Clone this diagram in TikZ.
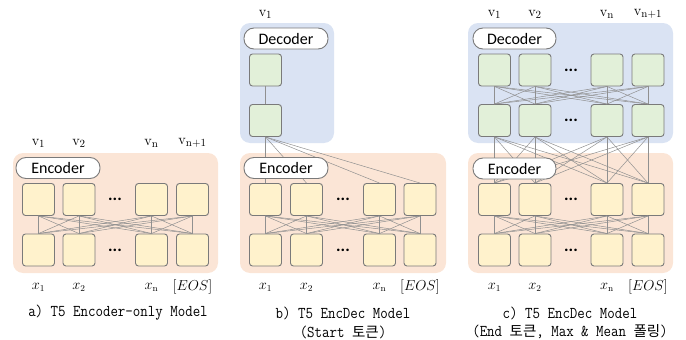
\documentclass[tikz,border=0pt]{standalone}
\usepackage[no-math]{fontspec}
\setmainfont{Carlito}
\newfontfamily\capfont[FakeStretch=0.88]{Latin Modern Mono}
\newfontfamily\krfont{Noto Sans CJK KR}
\definecolor{pinkbg}{HTML}{FBE5D6}
\definecolor{bluebg}{HTML}{DAE3F3}
\definecolor{yel}{HTML}{FFF2CC}
\definecolor{grn}{HTML}{E2F0D9}
\definecolor{bord}{HTML}{7A7A7A}
\definecolor{lin}{HTML}{909090}
\begin{document}
\begin{tikzpicture}[x=1pt,y=-1pt,
  panel/.style={rounded corners=10pt, minimum height=120pt, inner sep=0pt},
  sq/.style={draw=bord, line width=0.9pt, rounded corners=3pt, minimum size=32pt, inner sep=0pt},
  ysq/.style={sq, fill=yel},
  gsq/.style={sq, fill=grn},
  pill/.style={draw=bord, fill=white, line width=0.9pt, rounded corners=10pt, minimum width=83pt, minimum height=21pt, inner sep=0pt, font=\fontsize{16}{16}\selectfont},
  conn/.style={draw=lin, line width=0.5pt},
  dots/.style={inner sep=0pt, font=\fontsize{17}{17}\selectfont\bfseries},
  lab/.style={inner sep=0pt, font=\fontsize{13.5}{13.5}\selectfont},
  vlab/.style={inner sep=0pt, font=\fontsize{15}{15}\selectfont},
  captxt/.style={inner sep=0pt, font=\fontsize{16.5}{16.5}\capfont},
  kr/.style={}
]
\useasboundingbox (0,0) rectangle (686,340);
% panel boxes
\node[panel, fill=pinkbg, minimum width=205pt] (aenc) at (115.5,213) {};
\node[panel, fill=pinkbg, minimum width=206pt] (benc) at (343,213) {};
\node[panel, fill=bluebg, minimum width=94pt] (bdec) at (287,83) {};
\node[panel, fill=bluebg, minimum width=205pt] (cdec) at (570.5,83) {};
\node[panel, fill=pinkbg, minimum width=205pt] (cenc) at (570.5,213) {};
% squares panel a
\foreach \n/\x in {1/38.5,2/79,3/151.5,4/192.5} {
  \node[ysq] (at\n) at (\x,199.5) {};
  \node[ysq] (ab\n) at (\x,250) {};
}
% squares panel b
\node[gsq] (bd1) at (265.5,70) {};
\node[gsq] (bd2) at (265.5,120.5) {};
\foreach \n/\x in {1/265.5,2/306.5,3/379.5,4/420} {
  \node[ysq] (bt\n) at (\x,199.5) {};
  \node[ysq] (bb\n) at (\x,250) {};
}
% squares panel c
\foreach \n/\x in {1/494.5,2/535,3/607,4/648} {
  \node[gsq] (cdt\n) at (\x,70) {};
  \node[gsq] (cdb\n) at (\x,120.5) {};
  \node[ysq] (cet\n) at (\x,199.5) {};
  \node[ysq] (ceb\n) at (\x,250) {};
}
% connectors
\foreach \i in {1,...,4} {
  \foreach \j in {1,...,4} {
    \draw[conn] (at\i.south) -- (ab\j.north);
    \draw[conn] (bt\i.south) -- (bb\j.north);
    \draw[conn] (cdt\i.south) -- (cdb\j.north);
    \draw[conn] (cdb\i.south) -- (cet\j.north);
    \draw[conn] (cet\i.south) -- (ceb\j.north);
  }
  \draw[conn] (bd2.south) -- (bt\i.north);
}
\draw[conn] (bd1.south) -- (bd2.north);
% pills
\node[pill, minimum width=84pt] (apill) at (58,168) {Encoder};
\node[pill, minimum width=84pt] (bepill) at (286,168) {Encoder};
\node[pill, minimum width=84pt] (bdpill) at (286,38.5) {Decoder};
\node[pill] (cdpill) at (514.5,38.5) {Decoder};
\node[pill] (cepill) at (514.5,168.5) {Encoder};
% dots
\node[dots] (adot1) at (115,199.5) {...};
\node[dots] (adot2) at (115,250) {...};
\node[dots] (bdot1) at (343,199.5) {...};
\node[dots] (bdot2) at (343,250) {...};
\node[dots] (cdot1) at (571,70) {...};
\node[dots] (cdot2) at (571,120.5) {...};
\node[dots] (cdot3) at (571,199.5) {...};
\node[dots] (cdot4) at (571,250) {...};
% v labels
\node[vlab] (av1) at (38.5,143) {$\mathrm{v}_1$};
\node[vlab] (av2) at (79,143) {$\mathrm{v}_2$};
\node[vlab] (avn) at (151.5,143) {$\mathrm{v}_\mathrm{n}$};
\node[vlab] (avn1) at (192.5,143) {$\mathrm{v}_{\mathrm{n}+1}$};
\node[vlab] (bv1) at (265.5,14) {$\mathrm{v}_1$};
\node[vlab] (cv1) at (494.5,14) {$\mathrm{v}_1$};
\node[vlab] (cv2) at (535,14) {$\mathrm{v}_2$};
\node[vlab] (cvn) at (607,14) {$\mathrm{v}_\mathrm{n}$};
\node[vlab] (cvn1) at (648,14) {$\mathrm{v}_{\mathrm{n}+1}$};
% x labels
\foreach \p/\a/\b/\c/\d in {a/38.5/79/151.5/192.5, b/265.5/306.5/379.5/420, c/494.5/535/607/648} {
  \node[lab] (\p x1) at (\a,287) {$x_1$};
  \node[lab] (\p x2) at (\b,287) {$x_2$};
  \node[lab] (\p xn) at (\c,287) {$x_\mathrm{n}$};
  \node[lab] (\p eos) at (\d,287) {$[EOS]$};
}
% captions
\node[captxt] (capa) at (118,313) {a) T5 Encoder-only Model};
\node[captxt] (capb1) at (343,313) {b) T5 EncDec Model};
\node[captxt] (capb2) at (343,332) {(Start {\krfont\fontsize{14.5}{14.5}\selectfont 토큰})};
\node[captxt] (capc1) at (570,313) {c) T5 EncDec Model};
\node[captxt] (capc2) at (570,332) {(End {\krfont\fontsize{14.5}{14.5}\selectfont 토큰}, Max \& Mean {\krfont\fontsize{14.5}{14.5}\selectfont 폴링})};
\end{tikzpicture}
\end{document}
